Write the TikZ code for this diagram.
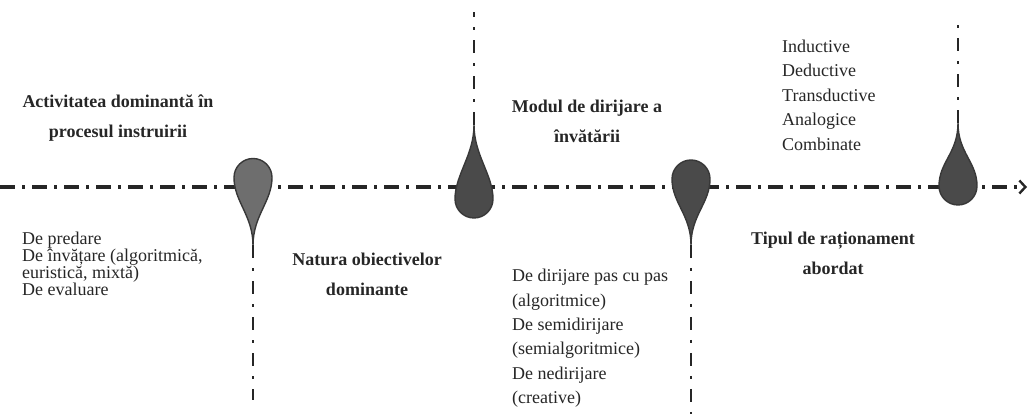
\documentclass[tikz,border=0pt]{standalone}
\usepackage{fontspec}
\setmainfont{Liberation Serif}
\usetikzlibrary{arrows.meta}

\definecolor{pinlight}{HTML}{6E6E6E}
\definecolor{pindark}{HTML}{4A4A4A}
\definecolor{pinedge}{HTML}{383838}

\begin{document}
\begin{tikzpicture}[
  x=1pt, y=1pt,
  every node/.style = {inner sep=0pt, text=black!85},
  headtxt/.style  = {font={\fontsize{18}{30}\selectfont\bfseries}, align=center},
  listtxt/.style  = {font={\fontsize{18}{#1}\selectfont\lineskiplimit=-20pt},
                     align=left, anchor=base west},
  axisline/.style = {line width=3.6pt, black!85,
                     dash pattern=on 15pt off 7pt on 3pt off 7pt},
  vline/.style    = {line width=2.4pt, black!85,
                     dash pattern=on 13pt off 10pt on 3pt off 10pt},
  dropfill/.style = {fill=#1, draw=pinedge, line width=1.4pt},
  pics/drop/.style args = {#1/#2}{code={
    \draw[dropfill=#2] (0,-#1) .. controls (0,-#1+30) and (-19,-24) .. (-19,0)
      arc[start angle=180, end angle=0, radius=19]
      .. controls (19,-24) and (0,-#1+30) .. (0,-#1) -- cycle;
    \coordinate (-tip) at (0,-#1);
  }},
]
\useasboundingbox (0,0) rectangle (1028,414);

%% ══ AXIS ════════════════════════════════════════════════════════════════
\coordinate (axstart) at (0,227);
\coordinate (axend)   at (1027,227);
\draw[axisline, -{Straight Barb[length=6pt, width=13pt, line width=2.4pt]}]
  (axstart) -- (axend);

%% ══ PINS ════════════════════════════════════════════════════════════════
\pic (p1) at (253,236.5)            {drop=68/pinlight};
\pic[rotate=180] (p2) at (474,215)  {drop=74/pindark};
\pic (p3) at (691,235)              {drop=66/pindark};
\pic[rotate=180] (p4) at (958,228)  {drop=63/pindark};

%% ── free ends of the vertical guides ────────────────────────────────────
\coordinate (e1) at (253,14);
\coordinate (e2) at (474,402);
\coordinate (e3) at (691,0);
\coordinate (e4) at (958,392);

\draw[vline] (p1-tip) -- (e1);
\draw[vline] (p2-tip) -- (e2);
\draw[vline] (p3-tip) -- (e3);
\draw[vline] (p4-tip) -- (e4);

%% ══ HEADINGS ════════════════════════════════════════════════════════════
\node[headtxt] at (118,295.5) (act) {Activitatea dominantă în\\procesul instruirii};
\node[headtxt] at (367,139.7) (nat) {Natura obiectivelor\\dominante};
\node[headtxt] at (587,293)   (mod) {Modul de dirijare a\\învătării};
\node[headtxt] at (833,161)   (rat) {Tipul de raționament\\abordat};

%% ══ LISTS (anchored on the last line) ═══════════════════════════════════
\node[listtxt=16.7] at (22,118.9) (actlist) {
  De predare\\
  De învățare (algoritmică,\\
  euristică, mixtă)\\
  De evaluare
};

\node[listtxt=24.4] at (512,10.3) (modlist) {
  De dirijare pas cu pas\\
  (algoritmice)\\
  De semidirijare\\
  (semialgoritmice)\\
  De nedirijare\\
  (creative)
};

\node[listtxt=24.5] at (782,263.7) (ratlist) {
  Inductive\\
  Deductive\\
  Transductive\\
  Analogice\\
  Combinate
};

\end{tikzpicture}
\end{document}
